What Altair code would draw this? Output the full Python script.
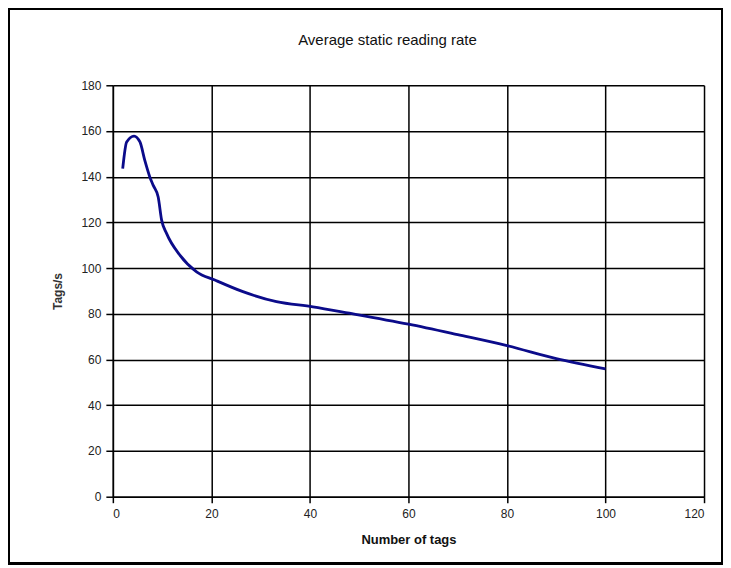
import altair as alt
import pandas as pd

tags = [2, 2.8, 4.3, 5.5, 6.5, 7.5, 8.2, 9.2, 9.9, 10.9, 13.6, 17, 20.7, 26.4, 33.2, 40.6, 48, 60, 70, 80, 90, 100]
rate = [143.5, 155.2, 157.8, 155.2, 147, 139.9, 136.2, 131.1, 121, 115.2, 105.7, 98.4, 94.8, 89.7, 85.3, 83.1, 80.3, 75.5, 70.9, 66.1, 60.4, 55.9]
title_text = ["Average static reading rate"]

df = pd.DataFrame({"tags": tags, "rate": rate})
tdf = pd.DataFrame({"t": title_text})

FONT = "Liberation Sans"

line = alt.Chart(df).mark_line(color="#0b0b8a", strokeWidth=2.8, interpolate="monotone").encode(
    x=alt.X("tags:Q", title="Number of tags",
            scale=alt.Scale(domain=[0, 120], nice=False),
            axis=alt.Axis(values=list(range(0, 121, 20)), grid=True, gridColor="black", gridWidth=1.5,
                          gridOpacity=1, domainColor="black", domainWidth=1.5, tickColor="black",
                          tickSize=6, tickWidth=1.5, labelFont=FONT, labelFontSize=12, labelColor="#222",
                          labelPadding=6, titleFont=FONT, titleFontSize=13, titleFontWeight="bold",
                          titleColor="#111", titlePadding=14)),
    y=alt.Y("rate:Q", title="Tags/s",
            scale=alt.Scale(domain=[0, 180], nice=False),
            axis=alt.Axis(values=list(range(0, 181, 20)), grid=True, gridColor="black", gridWidth=1.5,
                          gridOpacity=1, domainColor="black", domainWidth=1.5, tickColor="black",
                          tickSize=7, tickWidth=1.5, labelFont=FONT, labelFontSize=12, labelColor="#222",
                          labelPadding=5, titleFont=FONT, titleFontSize=12, titleFontWeight="bold",
                          titleColor="#333", titlePadding=16)),
)

frame = alt.Chart(df).mark_rect(fill=None, stroke="black", strokeWidth=1.5).encode(
    x=alt.value(-104), x2=alt.value(610), y=alt.value(-77), y2=alt.value(479)
)

title = alt.Chart(tdf).mark_text(font=FONT, fontSize=15, color="#111", align="center",
                                 baseline="middle").encode(
    text="t:N", x=alt.value(275), y=alt.value(-45)
)

chart = alt.layer(frame, line, title).properties(
    width=592, height=412,
    padding={"left": 105, "top": 77, "right": 19, "bottom": 69},
    autosize=alt.AutoSizeParams(type="none"),
).configure_view(stroke=None)

chart.save("out.html", embed_options={"renderer": "svg", "actions": False})
